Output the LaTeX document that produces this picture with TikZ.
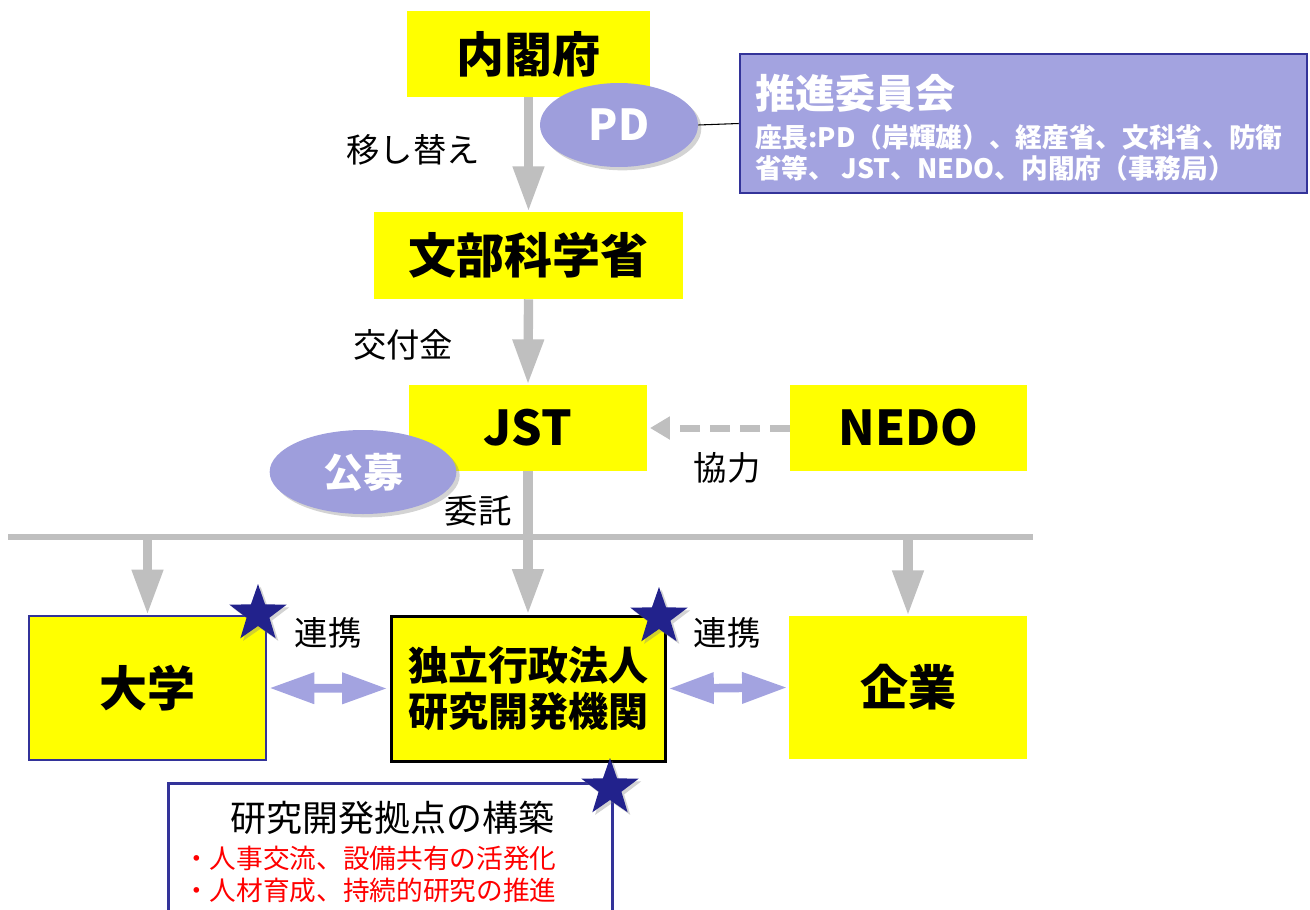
\documentclass[tikz,border=0pt]{standalone}
\usepackage{fontspec}
\setmainfont{Noto Sans CJK JP}
\usetikzlibrary{arrows.meta,shapes.geometric,shadows}
\definecolor{yel}{RGB}{255,255,0}
\definecolor{lav}{RGB}{158,158,220}
\definecolor{lavbox}{RGB}{163,163,224}
\definecolor{navyb}{RGB}{51,51,153}
\definecolor{starc}{RGB}{34,34,140}
\definecolor{grayc}{RGB}{191,191,191}
\definecolor{redc}{RGB}{255,0,0}
\tikzset{
  ybox/.style={draw=none,fill=yel,inner sep=0pt},
  oval/.style={ellipse,fill=lav,inner sep=0pt,text=white,
    drop shadow={opacity=0.35,shadow xshift=2.5pt,shadow yshift=-2.5pt}},
  bigtxt/.style={font=\bfseries\fontsize{36}{40}\selectfont},
  lbl/.style={inner sep=0pt,font=\fontsize{25}{28}\selectfont},
  grayarrow/.style={draw=grayc,line width=7pt,-{Triangle[width=22pt,length=34pt]}},
  dasharrow/.style={draw=grayc,line width=5.25pt,dash pattern=on 15pt off 7.5pt,-{Triangle[width=16.5pt,length=15pt]}},
  duoarrow/.style={draw=lavbox,line width=6.5pt,{Triangle[width=22pt,length=34pt]}-{Triangle[width=22pt,length=34pt]}},
  bluestar/.style={star,star points=5,star point ratio=2.5,fill=starc,inner sep=0pt,minimum size=45pt,
    drop shadow={opacity=0.35,shadow xshift=2pt,shadow yshift=-2pt}},
}
\begin{document}
\begin{tikzpicture}[x=0.75pt,y=-0.75pt]
\useasboundingbox (0,0) rectangle (1310,910);
\clip (0,0) rectangle (1310,910);
% boxes
\node[ybox,minimum width=182.25pt,minimum height=64.5pt,bigtxt] (naikaku) at (528.5,54) {内閣府};
\node[ybox,minimum width=231.75pt,minimum height=65.25pt,bigtxt] (monka) at (528.5,255.5) {文部科学省};
\node[ybox,minimum width=178.5pt,minimum height=64.5pt,bigtxt] (jst) at (528,428) {JST};
\node[ybox,minimum width=177.75pt,minimum height=64.5pt,bigtxt] (nedo) at (908.5,428) {NEDO};
\node[ybox,draw=navyb,line width=1.5pt,minimum width=177.75pt,minimum height=108pt,bigtxt] (daigaku) at (147.5,688) {大学};
\node[ybox,draw=black,line width=2.25pt,minimum width=205.5pt,minimum height=108.75pt,align=center,
  font=\bfseries\fontsize{30}{34.5}\selectfont] (kenkyu) at (528,688.5) {独立行政法人\\研究開発機関};
\node[ybox,minimum width=178.5pt,minimum height=107.25pt,bigtxt] (kigyo) at (908,687.5) {企業};
% committee box
\node[fill=lavbox,draw=navyb,line width=1.9pt,minimum width=425.25pt,minimum height=104.25pt,inner sep=0pt] (suishin) at (1023.5,123.5) {};
\node[anchor=west,inner sep=0pt,text=white,font=\bfseries\fontsize{30}{34}\selectfont] (st) at (755,93) {推進委員会};
\node[anchor=west,inner sep=0pt,text=white,font=\bfseries\fontsize{20}{23}\selectfont] (sl1) at (755,137) {座長:PD（岸輝雄）、経産省、文科省、防衛};
\node[anchor=west,inner sep=0pt,text=white,font=\bfseries\fontsize{20}{23}\selectfont] (sl2) at (755,168) {省等、 JST、NEDO、内閣府（事務局）};
% bottom box
\node[fill=white,draw=navyb,line width=2.25pt,minimum width=333pt,minimum height=110.25pt,inner sep=0pt] (kyoten) at (390,856.5) {};
\node[inner sep=0pt,font=\fontsize{27}{30}\selectfont] (kt) at (392,818) {研究開発拠点の構築};
\node[anchor=west,inner sep=0pt,text=redc,font=\fontsize{20}{23}\selectfont] (k1) at (183,858) {・人事交流、設備共有の活発化};
\node[anchor=west,inner sep=0pt,text=redc,font=\fontsize{20}{23}\selectfont] (k2) at (183,890) {・人材育成、持続的研究の推進};
% arrows
\draw[grayarrow] (naikaku.south) -- (monka.north);
\draw[grayarrow] (monka.south) -- (jst.north);
\draw[grayarrow] (jst.south) -- (kenkyu.north);
\coordinate (hl) at (8,537);
\coordinate (hr) at (1033,537);
\coordinate (dl) at (147.5,537);
\coordinate (dr) at (908,537);
\draw[draw=grayc,line width=4.5pt] (hl) -- (hr);
\draw[grayarrow] (dl) -- (daigaku.north);
\draw[grayarrow] (dr) -- (kigyo.north);
\draw[dasharrow] (nedo.west) -- ([xshift=2pt]jst.east);
\draw[duoarrow] ([xshift=1.5pt]daigaku.east) -- ([xshift=-1.5pt]kenkyu.west);
\draw[duoarrow] ([xshift=1.5pt]kenkyu.east) -- ([xshift=-1pt]kigyo.west);
% ellipses
\node[oval,minimum width=118.5pt,minimum height=63pt,font=\bfseries\fontsize{32}{36}\selectfont] (pd) at (619,125) {PD};
\draw[black,line width=0.8pt] (pd.east) -- (suishin.west);
\node[oval,minimum width=140pt,minimum height=63pt,font=\bfseries\fontsize{30}{34}\selectfont] (koubo) at (363,472) {公募};
% labels
\node[lbl] (l1) at (413,150) {移し替え};
\node[lbl] (l2) at (403,345) {交付金};
\node[lbl] (l3) at (727,468) {協力};
\node[lbl] (l4) at (478,511) {委託};
\node[lbl] (l5) at (328,633) {連携};
\node[lbl] (l6) at (727,633) {連携};
% stars
\node[bluestar] (s1) at (258,614) {};
\node[bluestar] (s2) at (659,617) {};
\node[bluestar] (s3) at (610,788) {};
\end{tikzpicture}
\end{document}
